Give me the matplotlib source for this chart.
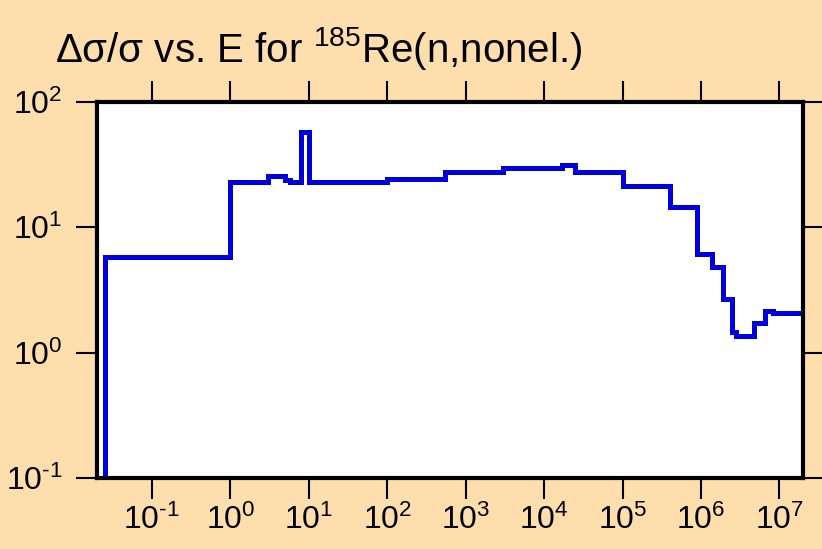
import matplotlib
matplotlib.use("Agg")
import matplotlib.pyplot as plt
from matplotlib.ticker import FixedLocator, FuncFormatter, NullLocator
import numpy as np

plt.rcParams['font.family'] = ['Liberation Sans', 'DejaVu Sans']
plt.rcParams['mathtext.fontset'] = 'custom'
plt.rcParams['mathtext.rm'] = 'Liberation Sans'
plt.rcParams['mathtext.default'] = 'regular'

# Group boundaries (eV) and relative uncertainty (%) in each group
energy_edges = [0.0253, 1.0, 1.6, 3.0, 5.0, 5.8, 8.0, 10.0, 30.0, 100.0, 550.0,
                3.0e3, 1.7e4, 2.5e4, 1.0e5, 4.0e5, 9.0e5, 1.4e6, 1.9e6, 2.5e6,
                2.8e6, 4.8e6, 6.5e6, 8.3e6, 2.0e7]
rel_unc = [5.76, 23.2, 23.0, 25.5, 24.0, 23.2, 58.0, 23.0, 23.2, 24.2, 27.6,
           29.9, 31.6, 27.4, 21.5, 14.4, 6.15, 4.8, 2.66, 1.45, 1.36, 1.74,
           2.15, 2.09]

x_ticks = [1e-1, 1e0, 1e1, 1e2, 1e3, 1e4, 1e5, 1e6, 1e7]
y_ticks = [1e-1, 1e0, 1e1, 1e2]

bg = '#fddeac'


def decade_label(v, pos):
    e = int(round(np.log10(v)))
    return r'10$^{\text{%d}}$' % e


fig = plt.figure(figsize=(8.22, 5.49), dpi=100, facecolor=bg)
ax = fig.add_axes([0.118, 0.1293, 0.859, 0.6849])
ax.set_facecolor('white')

ax.stairs(rel_unc, energy_edges, baseline=1e-3, color='#0000dd', linewidth=3.6)

ax.set_xscale('log')
ax.set_yscale('log')
ax.set_xlim(0.02, 2.0e7)
ax.set_ylim(0.1, 100)

ax.xaxis.set_major_locator(FixedLocator(x_ticks))
ax.yaxis.set_major_locator(FixedLocator(y_ticks))
ax.xaxis.set_minor_locator(NullLocator())
ax.yaxis.set_minor_locator(NullLocator())
ax.xaxis.set_major_formatter(FuncFormatter(decade_label))
ax.yaxis.set_major_formatter(FuncFormatter(decade_label))

for sp in ax.spines.values():
    sp.set_linewidth(3.0)
    sp.set_color('black')

ax.tick_params(which='major', direction='out', length=15, width=1.5,
               top=True, right=True, labeltop=False, labelright=False,
               labelsize=23, color='black')
ax.tick_params(axis='x', pad=4)
ax.tick_params(axis='y', pad=10)

fig.text(0.067, 0.887, 'Δσ/σ vs. E for $^{185}$Re(n,nonel.)',
         fontsize=29, ha='left', va='baseline')

fig.savefig('out.png', dpi=100, facecolor=bg)
